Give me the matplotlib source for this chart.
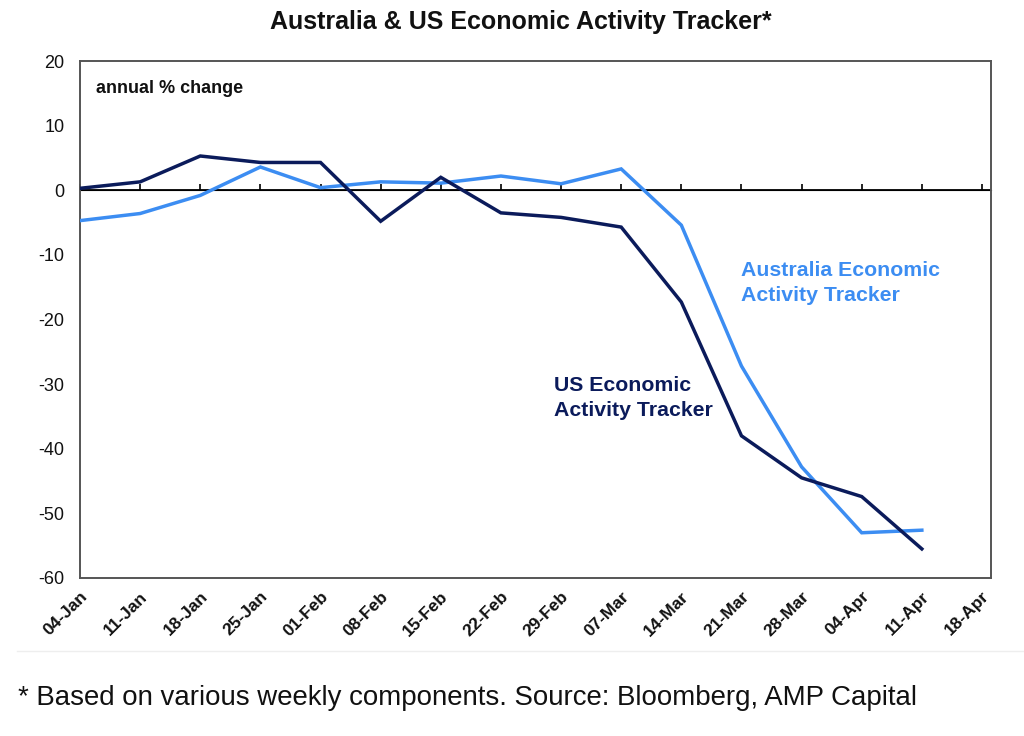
import matplotlib
matplotlib.use("Agg")
import matplotlib.pyplot as plt
import matplotlib.transforms as mtransforms
from matplotlib.lines import Line2D

weeks = ["04-Jan", "11-Jan", "18-Jan", "25-Jan", "01-Feb", "08-Feb", "15-Feb", "22-Feb",
         "29-Feb", "07-Mar", "14-Mar", "21-Mar", "28-Mar", "04-Apr", "11-Apr", "18-Apr"]
us_values = [0.3, 1.3, 5.3, 4.3, 4.3, -4.8, 2.0, -3.5, -4.2, -5.7, -17.3, -38.0, -44.5, -47.4, -55.5]
au_values = [-4.7, -3.6, -0.8, 3.6, 0.4, 1.3, 1.1, 2.2, 1.0, 3.3, -5.4, -27.2, -42.8, -53.0, -52.6]
yticks = [20, 10, 0, -10, -20, -30, -40, -50, -60]

NAVY = "#0B1B5B"
LIGHT = "#3C8DF2"
FONT = "Liberation Sans"

plt.rcParams['font.family'] = [FONT, 'DejaVu Sans']

fig = plt.figure(figsize=(10.24, 7.36), dpi=100)
ax = fig.add_axes([80/1024, 1-578/736, (991-80)/1024, (578-61)/736])

x_us = list(range(len(us_values)))
x_au = list(range(len(au_values)))
ax.plot(x_au, au_values, color=LIGHT, lw=2.5, solid_joinstyle='miter', zorder=3)
ax.plot(x_us, us_values, color=NAVY, lw=2.5, solid_joinstyle='miter', zorder=4)

ax.set_xlim(0, 15.15)
ax.set_ylim(-60, 20)
ax.set_yticks(yticks)
ax.set_yticklabels([str(v) for v in yticks], fontsize=13, color="#111111")
ax.tick_params(axis='y', length=0, pad=11)

ax.set_xticks(range(len(weeks)))
ax.set_xticklabels(weeks, rotation=45, ha='right', va='center', rotation_mode='anchor',
                   fontsize=12.5, fontweight='bold', color="#111111")
ax.tick_params(axis='x', length=0, pad=13)
offset = mtransforms.ScaledTranslation(5/100, 2/100, fig.dpi_scale_trans)
for lab in ax.get_xticklabels():
    lab.set_transform(lab.get_transform() + offset)

for s in ax.spines.values():
    s.set_color("#555555")
    s.set_linewidth(1.4)

# zero line with tick marks
ax.axhline(0, color="black", lw=1.3, zorder=2)
sec = ax.secondary_xaxis(0.75)
sec.set_xticks(range(len(weeks)))
sec.set_xticklabels([])
sec.tick_params(axis='x', direction='out', length=4.5, width=1.2, color='black')
sec.spines['bottom'].set_visible(False)

ax.text(0.018, 0.963, "annual % change", transform=ax.transAxes, fontsize=13,
        fontweight='bold', color="#111111", ha='left', va='top')

ax.text(11.0, -14.4, "Australia Economic\nActivity Tracker", color=LIGHT, fontsize=15.3,
        fontweight='bold', ha='left', va='center', linespacing=1.4)
ax.text(7.88, -32.1, "US Economic\nActivity Tracker", color=NAVY, fontsize=15.3,
        fontweight='bold', ha='left', va='center', linespacing=1.4)

fig.text(521/1024, 1-22/736, "Australia & US Economic Activity Tracker*", fontsize=18,
         fontweight='bold', ha='center', va='center', color="#111111")

fig.add_artist(Line2D([17/1024, 1.0], [1-651/736, 1-651/736], transform=fig.transFigure,
                      color="#EEEEEE", lw=1))

fig.text(18/1024, 1-698/736, "* Based on various weekly components. Source: Bloomberg, AMP Capital",
         fontsize=19.9, ha='left', va='center', color="#111111")

fig.savefig("out.png", dpi=100, facecolor="white")
